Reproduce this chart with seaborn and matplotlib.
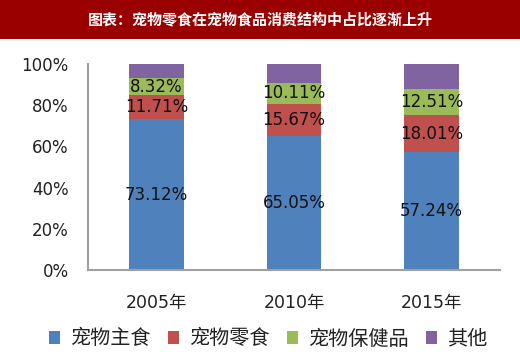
import matplotlib
matplotlib.use("Agg")
import matplotlib.pyplot as plt
import seaborn as sns
import numpy as np
import pandas as pd
from matplotlib.patches import Rectangle

years = ['2005年', '2010年', '2015年']
staple = [73.12, 65.05, 57.24]
snack = [11.71, 15.67, 18.01]
health = [8.32, 10.11, 12.51]
other = [6.85, 9.17, 12.24]
series_names = ['宠物主食', '宠物零食', '宠物保健品', '其他']
colors = ['#4F81BD', '#C0504D', '#9BBB59', '#8064A2']

sns.set_theme(style="white")
plt.rcParams['font.family'] = ['DejaVu Sans', 'Noto Sans CJK SC']

fig = plt.figure(figsize=(5.2, 3.64), dpi=100)
fig.patch.set_facecolor('white')
fig.patches.append(Rectangle((0, 1 - 39 / 364), 1, 39 / 364, transform=fig.transFigure,
                             facecolor='#9B0000', edgecolor='none', zorder=0))
fig.text(0.5, 1 - 19 / 364, '图表：宠物零食在宠物食品消费结构中占比逐渐上升',
         color='white', fontsize=10.8, fontweight='bold', ha='center', va='center',
         family=['Noto Sans CJK SC'])

ax = fig.add_axes([88 / 520, 94 / 364, 412 / 520, 206 / 364])

series = [staple, snack, health, other]
cum = np.cumsum(np.array(series), axis=0)
df = pd.DataFrame({'year': years})
# draw stacked bars back to front
for i in range(3, -1, -1):
    df['v'] = cum[i] / 100
    sns.barplot(data=df, x='year', y='v', color=colors[i], width=0.4,
                saturation=1, linewidth=0, ax=ax, label=series_names[i])

# segment labels
for j in range(3):
    for i in range(3):
        base = cum[i - 1][j] if i > 0 else 0
        mid = (base + series[i][j] / 2) / 100
        ax.text(j, mid, f'{series[i][j]:.2f}%', ha='center', va='center',
                fontsize=12, color='#111111')

ax.set_ylim(0, 1)
ax.set_xlim(-0.5, 2.5)
ax.set_yticks(np.arange(0, 1.01, 0.2))
ax.set_yticklabels([f'{int(v)}%' for v in np.arange(0, 101, 20)])
ax.set_xlabel('')
ax.set_ylabel('')
ax.tick_params(axis='y', length=0, pad=14, labelsize=12, labelcolor='#222222')
ax.tick_params(axis='x', length=0, pad=17, labelsize=12.5, labelcolor='#222222')
for s in ['top', 'right']:
    ax.spines[s].set_visible(False)
for s in ['left', 'bottom']:
    ax.spines[s].set_color('#A0A0A0')
    ax.spines[s].set_linewidth(1.5)

handles, labels = ax.get_legend_handles_labels()
order = [labels.index(n) for n in series_names]
ax.legend([handles[k] for k in order], series_names, loc='center',
          bbox_to_anchor=(268 / 520, 1 - 339 / 364), bbox_transform=fig.transFigure,
          ncol=4, frameon=False, prop={'family': ['Noto Sans CJK SC'], 'size': 14.5},
          handlelength=0.57, handleheight=0.57, handletextpad=0.46, columnspacing=0.88,
          labelcolor='#222222')

fig.savefig('out.png', dpi=100)
